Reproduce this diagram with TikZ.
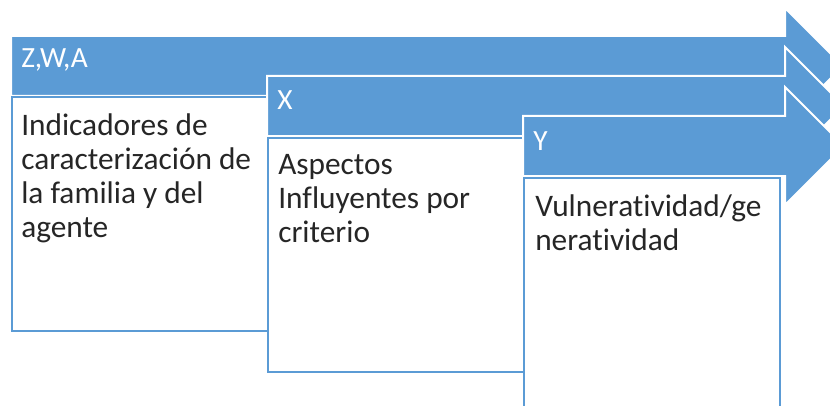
\documentclass[tikz,border=0pt]{standalone}
\usepackage{fontspec}
\setmainfont{Carlito}[Ligatures=NoCommon]
\definecolor{accent}{HTML}{5B9BD5}
\begin{document}
\begin{tikzpicture}[x=0.75pt,y=-0.75pt,
  arrowshape/.style={fill=accent,draw=white,line width=1.5pt,line join=miter},
  boxshape/.style={fill=white,draw=accent,line width=1.5pt},
  headtext/.style={anchor=base west,inner sep=0pt,text=white,font=\fontsize{22}{26}\selectfont},
  bodytext/.style={anchor=base west,inner sep=0pt,align=left,text=black!85,font=\fontsize{23.5}{25.5}\selectfont}]
\useasboundingbox (0,0) rectangle (830,406);
\clip (0,0) rectangle (830,406);
% arrow 1
\draw[arrowshape] (11,36) -- (785,36) -- (785,8) -- (843,66) -- (785,124) -- (785,96) -- (11,96) -- cycle;
\draw[boxshape] (12,97) rectangle (268,331);
\node[headtext] (h1) at (21,68) {Z,W,A};
\node[bodytext] (b1) at (21,237) {Indicadores de\\caracterización de\\la familia y del\\agente};
% arrow 2
\draw[arrowshape] (267,76) -- (785,76) -- (785,47) -- (844,106) -- (785,165) -- (785,136) -- (267,136) -- cycle;
\draw[boxshape] (268,138) rectangle (524,372);
\node[headtext] (h2) at (277,110) {X};
\node[bodytext] (b2) at (278,242) {Aspectos\\Influyentes por\\criterio};
% arrow 3
\draw[arrowshape] (523,116) -- (785,116) -- (785,87) -- (844,146) -- (785,205) -- (785,176) -- (523,176) -- cycle;
\draw[boxshape] (524,178) rectangle (780,420);
\node[headtext] (h3) at (533,150) {Y};
\node[bodytext] (b3) at (535,250) {Vulneratividad/ge\\neratividad};
\end{tikzpicture}
\end{document}
